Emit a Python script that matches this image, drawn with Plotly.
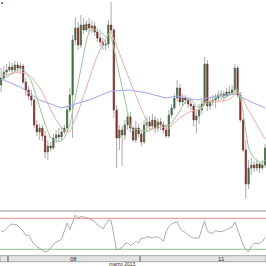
import plotly.graph_objects as go

# ---------------- data (30-min candles, price in points) ----------------
idx = list(range(97))

open_ = [115,122,128,130,133,130,135,132,134,118,
         110,104,100,75,68,72,64,48,54,52,
         62,65,63,68,72,90,105,160,172,155,
         175,170,176,172,174,168,162,158,155,156,
         175,170,90,62,70,65,75,83,72,60,
         72,66,58,75,78,74,80,72,78,75,
         70,64,85,92,102,112,98,102,100,96,
         94,80,84,90,96,136,94,98,100,102,
         105,106,104,108,107,110,132,105,80,50,
         16,32,35,32,36,32,35]
high = [132,134,136,138,137,139,138,137,136,122,
        114,110,102,80,76,75,69,60,58,66,
        70,72,73,75,94,112,165,183,178,185,
        182,180,182,180,178,170,167,162,160,180,
        198,172,95,75,74,80,86,88,74,79,
        76,70,80,83,84,86,84,82,82,79,
        76,90,96,106,120,116,106,105,103,101,
        96,90,96,100,143,140,102,105,106,109,
        110,109,112,114,115,136,134,108,82,60,
        40,42,39,40,38,40,56]
low = [108,120,124,128,126,128,128,126,116,104,
       100,94,72,64,60,59,42,40,49,50,
       57,59,60,66,69,88,62,155,150,152,
       166,168,168,167,164,158,154,150,150,152,
       166,82,32,50,34,60,70,68,58,57,
       62,54,56,69,70,72,67,68,70,66,
       62,62,82,90,98,94,94,96,92,90,
       74,67,76,86,94,89,90,94,92,99,
       100,99,102,104,105,107,102,78,48,1,
       11,25,28,29,27,30,32]
close = [122,128,130,133,130,135,132,134,118,110,
         104,100,75,68,72,64,48,54,52,62,
         65,63,68,72,90,105,160,172,155,175,
         170,176,172,174,168,162,158,155,156,175,
         170,90,62,70,65,75,83,72,60,72,
         66,58,75,78,74,80,72,78,75,70,
         64,85,92,102,112,98,102,100,96,94,
         80,84,90,96,136,94,98,100,102,105,
         106,104,108,107,110,132,105,80,50,16,
         32,35,32,36,32,35,52]

ma_fast = [120.3,121.4,122.9,124.7,126.1,128.3,130,131.7,130.3,127.4,
           123.3,119,110.4,101.3,92.4,84.7,75.9,68.7,61.9,60,
           59.6,58.3,58.9,62.3,67.4,75,89,104.3,117.4,132.7,
           146.7,159,168.6,170.6,170,171,168.6,166.4,163.6,164,
           163.4,152.3,138,125.4,112.6,101,87.9,73.9,69.6,71,
           70.4,69.4,69.4,68.7,69,71.9,71.9,73.6,76,75.3,
           73.3,74.9,76.6,80.9,85.7,89,93.6,98.7,100.3,100.6,
           97.4,93.4,92.3,91.4,96.6,96.3,96.9,99.7,102.3,104.4,
           105.9,101.3,103.3,104.6,106,110.3,110.3,103,88,68,
           52,46,42,40,38,37,40]
ma_mid = [124.8,125,125.4,125.9,126.3,127,127.5,128.1,127.6,126.6,
          125.1,123.3,119.7,115.6,112.1,107.5,101.6,96,90.4,85.2,
          80.4,75.4,71.8,69.1,68.1,68.4,74.5,81.9,87.9,95.8,
          104.5,113.2,121.8,129.8,137.1,144.2,150.6,156.6,161.3,166.3,
          167,161.1,154.5,147,139.5,132.3,125.9,118.6,110.9,104.5,
          97.9,91,85.2,78.3,71.4,70.7,71.4,72,72.7,72.4,
          71,71.9,74.2,76.4,79.6,82.5,84.4,86,87.6,88.6,
          89.1,89.6,90.6,92.5,97.6,98.3,98.7,98.6,97.9,98.4,
          98.6,98.9,99.8,100.7,102.9,106.3,107.3,106.2,100,94.5,
          89.8,85.1,80.1,75.2,69.9,65,61]
ma_slow_idx = [0,7,14,22,27,32,40,47,53,60,64,71,79,85,91,96]
ma_slow = [121,113,100,92,96,100,109,110,107,102,104,100,104,106,98,92]

rsi = [55.4,54.5,60.3,66.1,69,68,66.1,60.3,55.4,46.7,
       47.7,38,30.3,25.4,21.6,17.7,14.8,16.7,23.5,28.3,
       34.1,36.1,39.9,57.4,70.9,58.3,70.9,86.4,80.6,83.5,
       82.5,81.5,79,76.7,73.8,67,64.1,59.3,68,76.7,
       75.7,45.7,18.7,20.6,23.5,30.3,32.2,27.4,30.3,35.1,
       32.2,41.9,40.9,44.8,42.8,41.9,44.4,43.8,40.9,35.1,
       54.5,64.1,69,71.9,73.8,61.2,55.4,52.5,47.7,43.8,
       41.9,41.9,41.9,59.3,74.8,55.4,51.6,51.6,56.4,54.1,
       54.1,55.4,58.3,61.2,63.2,72.8,57.4,42.8,29.3,18.7,
       14.8,26.4,31.2,31.6,31.6,35.1,42.8]
rsi_levels = [80, 20]

day_bounds = [2.5, 50.5]
day_label_pos = [26.5, 80]
day_labels = ["08", "11"]
month_label_pos = 44
month_label = "marzo 2013"

# ---------------- styling ----------------
W = H = 266
XR = [-0.4, -0.4 + 266 / 2.75]
WICK = "#ababab"
UP = "#3f6f3f"
DN = "#8e2222"

body_hi = [max(o, c) for o, c in zip(open_, close)]
body_lo = [min(o, c) for o, c in zip(open_, close)]

fig = go.Figure()
fig.add_trace(go.Candlestick(
    x=idx, open=open_, high=high, low=low, close=close,
    increasing=dict(line=dict(color=WICK, width=1), fillcolor=WICK),
    decreasing=dict(line=dict(color=WICK, width=1), fillcolor=WICK),
    whiskerwidth=0, hoverinfo="skip", showlegend=False, xaxis="x", yaxis="y"))
fig.add_trace(go.Candlestick(
    x=idx, open=open_, high=body_hi, low=body_lo, close=close,
    increasing=dict(line=dict(color=UP, width=0.5), fillcolor=UP),
    decreasing=dict(line=dict(color=DN, width=0.5), fillcolor=DN),
    whiskerwidth=0, hoverinfo="skip", showlegend=False, xaxis="x", yaxis="y"))

fig.add_trace(go.Scatter(x=ma_slow_idx, y=ma_slow, mode="lines",
                         line=dict(color="#a3a3f2", width=1), xaxis="x", yaxis="y"))
fig.add_trace(go.Scatter(x=idx, y=ma_mid, mode="lines",
                         line=dict(color="#f5abab", width=1), xaxis="x", yaxis="y"))
fig.add_trace(go.Scatter(x=idx, y=ma_fast, mode="lines",
                         line=dict(color="#98c898", width=1), xaxis="x", yaxis="y"))

fig.add_trace(go.Scatter(x=idx, y=rsi, mode="lines",
                         line=dict(color="#ababab", width=1), xaxis="x2", yaxis="y2"))

def pf(px):  # pixel row -> paper fraction
    return (H - px) / H

shapes = []
shapes.append(dict(type="line", xref="paper", yref="paper", x0=0, x1=1,
                   y0=pf(211), y1=pf(211), line=dict(color="#8f8f8f", width=1)))
for lv, col in zip(rsi_levels, ["#f08a8a", "#8fc48f"]):
    shapes.append(dict(type="line", xref="paper", yref="y2", x0=0, x1=1,
                       y0=lv, y1=lv, line=dict(color=col, width=1)))
shapes.append(dict(type="rect", xref="paper", yref="paper", x0=0, x1=1,
                   y0=pf(261.7), y1=pf(255.7), fillcolor="#e3e3e3",
                   line=dict(color="#a5a5a5", width=1), layer="above"))
for b in day_bounds:
    shapes.append(dict(type="line", xref="x2", yref="paper", x0=b, x1=b,
                       y0=pf(261.7), y1=pf(255.7), line=dict(color="#555555", width=1)))
shapes.append(dict(type="rect", xref="paper", yref="paper", x0=1 / W, x1=3 / W,
                   y0=pf(4), y1=pf(2), fillcolor="#7070e0", line=dict(width=0)))

annotations = []
for p, t in zip(day_label_pos, day_labels):
    annotations.append(dict(x=p, y=pf(258.8), xref="x2", yref="paper", text=t,
                            showarrow=False, xanchor="center", yanchor="middle",
                            font=dict(size=6, color="#333333", family="Liberation Sans")))
annotations.append(dict(x=month_label_pos, y=pf(263.6), xref="x2", yref="paper",
                        text=month_label, showarrow=False, xanchor="center", yanchor="middle",
                        font=dict(size=5, color="#333333", family="Liberation Sans")))

fig.update_layout(
    width=W, height=H, margin=dict(l=0, r=0, t=0, b=0, pad=0),
    paper_bgcolor="white", plot_bgcolor="white", showlegend=False,
    boxgap=0.38, boxmode="overlay",
    xaxis=dict(domain=[0, 1], range=XR, visible=False, anchor="y",
               rangeslider=dict(visible=False), fixedrange=True),
    yaxis=dict(domain=[pf(207), 1], range=[-7, 200], visible=False, fixedrange=True),
    xaxis2=dict(domain=[0, 1], range=XR, visible=False, anchor="y2",
                rangeslider=dict(visible=False), fixedrange=True),
    yaxis2=dict(domain=[pf(255.5), pf(211)], range=[8, 94.1], visible=False,
                anchor="x2", fixedrange=True),
    shapes=shapes, annotations=annotations,
)

fig.write_html("out.html", config=dict(displayModeBar=False))
